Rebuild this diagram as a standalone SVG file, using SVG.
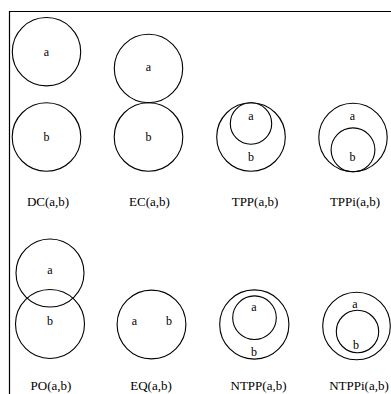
<svg xmlns="http://www.w3.org/2000/svg" width="391" height="394" viewBox="0 0 391 394">
<style>
.c{fill:none;stroke:#000;stroke-width:1.1}
.t{font-family:"Liberation Serif","Times New Roman",serif;font-size:12px;fill:#000;text-anchor:middle}
.l{font-family:"Liberation Serif","Times New Roman",serif;font-size:13px;fill:#000;text-anchor:middle}
</style>
<rect width="391" height="394" fill="#fff"/>
<g id="frame"><path d="M9.5,394 V11.5 H391" fill="none" stroke="#000" stroke-width="1.2"/></g>
<g id="DC">
<circle class="c" cx="46.5" cy="51.7" r="34.2"/>
<circle class="c" cx="46.5" cy="137" r="34.3"/>
<text class="t" x="46.5" y="55.5">a</text>
<text class="t" x="46.5" y="141">b</text>
<text class="l" x="48" y="205.5">DC(a,b)</text>
</g>
<g id="EC">
<circle class="c" cx="148.5" cy="68.5" r="34.2"/>
<circle class="c" cx="148.5" cy="137" r="34.3"/>
<text class="t" x="148.5" y="71">a</text>
<text class="t" x="148.5" y="141">b</text>
<text class="l" x="149.5" y="205.5">EC(a,b)</text>
</g>
<g id="TPP">
<circle class="c" cx="251" cy="137" r="34.3"/>
<circle class="c" cx="251" cy="123.5" r="20.7"/>
<text class="t" x="251" y="120">a</text>
<text class="t" x="251" y="161">b</text>
<text class="l" x="255" y="205.5">TPP(a,b)</text>
</g>
<g id="TPPi">
<circle class="c" cx="353" cy="137.5" r="34.2"/>
<circle class="c" cx="353" cy="149.8" r="21.9"/>
<text class="t" x="352.5" y="120">a</text>
<text class="t" x="352.5" y="161">b</text>
<text class="l" x="355" y="205.5">TPPi(a,b)</text>
</g>
<g id="PO">
<circle class="c" cx="50" cy="273" r="34"/>
<circle class="c" cx="50" cy="324" r="34.5"/>
<text class="t" x="50" y="274">a</text>
<text class="t" x="50" y="324.5">b</text>
<text class="l" x="51" y="390">PO(a,b)</text>
</g>
<g id="EQ">
<circle class="c" cx="151.5" cy="324.5" r="34.4" stroke-width="1.6"/>
<text class="t" x="134.5" y="324.5">a</text>
<text class="t" x="169" y="324.5">b</text>
<text class="l" x="151" y="390">EQ(a,b)</text>
</g>
<g id="NTPP">
<circle class="c" cx="254.3" cy="324.5" r="34.6"/>
<circle class="c" cx="254.5" cy="317.7" r="21.8"/>
<text class="t" x="254" y="311">a</text>
<text class="t" x="254" y="355.5">b</text>
<text class="l" x="258.5" y="390">NTPP(a,b)</text>
</g>
<g id="NTPPi">
<circle class="c" cx="356.5" cy="326" r="33.8"/>
<circle class="c" cx="357.5" cy="331.5" r="21.2"/>
<text class="t" x="355" y="307.5">a</text>
<text class="t" x="356" y="348.5">b</text>
<text class="l" x="359" y="390">NTPPi(a,b)</text>
</g>
</svg>
